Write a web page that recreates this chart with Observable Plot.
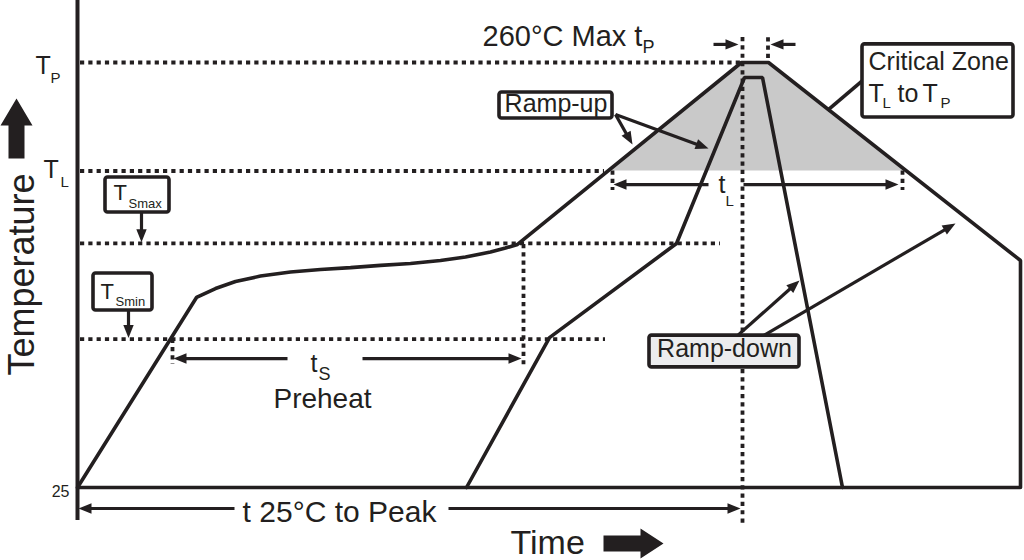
<!DOCTYPE html>
<html>
<head>
<meta charset="utf-8">
<script src="https://cdn.jsdelivr.net/npm/d3@7"></script>
<script src="https://cdn.jsdelivr.net/npm/@observablehq/plot@0.6"></script>
<style>
  html, body { margin: 0; padding: 0; background: #fff; }
  #chart svg { display: block; }
</style>
</head>
<body>
<div id="chart"></div>
<script>
// ---------- data (schematic units: time in s, temperature in °C-like units) ----------
const Tp = 260, TL = 200, Tsmax = 160, Tsmin = 107, Tbase = 25;

// upper-limit profile (outer)
const outerTime = [0, 47.6, 55.2, 63.2, 73.2, 85.2, 97.2, 109.2, 121.2, 133.2, 145.2, 155.2, 165.2, 171.2, 176, 265.6, 276.4, 377.2, 377.2];
const outerTemp = [25, 130.1, 135.0, 138.9, 141.9, 144.2, 145.5, 146.6, 147.8, 148.9, 150.5, 152.5, 155.2, 157.4, 159.4, 260, 260, 150.5, 25];

// lower-limit profile (inner)
const innerTime = [155.6, 188.8, 239.6, 266.8, 274, 306];
const innerTemp = [25, 107.9, 159.9, 251.7, 251.7, 25];

// critical zone (TL to TP) shading
const zoneTime = [212.4, 265.6, 276.4, 331.6];
const zoneTemp = [200, 260, 260, 200];

// dotted reference levels
const levelTemp = [Tp, TL, Tsmax, Tsmin];
const levelStart = [1.2, 1.2, 1.2, 1.2];
const levelEnd = [265.6, 210.8, 257.2, 211.2];

// dotted vertical markers
const markTime = [266, 276.2, 178.4, 38, 214, 330];
const markTop = [273.8, 262.2, 159.4, 107, 200, 200];
const markBottom = [4.0, 274.5, 90.8, 93.0, 189.2, 189.2];

// arrows [time, temp] from -> to
const arrowFrom = [[25.6, 177.1], [20.4, 122.9], [84, 96.3], [114, 96.3], [252.4, 192.5], [266.4, 192.5],
                   [62.8, 13.4], [148.4, 13.4], [254.4, 270.0], [287.2, 270.0],
                   [215.2, 231.2], [215.2, 231.2], [264, 109.0], [274.4, 109.0]];
const arrowTo   = [[25.6, 160.6], [20.4, 107.6], [38.4, 96.3], [177.6, 96.3], [214.4, 192.5], [328.4, 192.5],
                   [0.4, 13.4], [265.2, 13.4], [264.4, 270.0], [277.2, 270.0],
                   [222, 214.6], [252.4, 212.4], [288.8, 139.5], [351.2, 171.0]];

// leader line from "Critical Zone" box
const leaderFrom = [314, 250.0];
const leaderTo = [300, 233.5];

// label boxes
const boxName  = ["Tsmax", "Tsmin", "Ramp-up", "Ramp-down", "Critical Zone"];
const boxTime1 = [11.2, 6.4, 168.8, 228.8, 314];
const boxTime2 = [36.8, 30, 214, 288.8, 374.4];
const boxTemp1 = [196.4, 143.3, 243.4, 109.0, 270.0];
const boxTemp2 = [177.1, 122.9, 229.0, 91.4, 229.6];

// text labels
const labelText = ["T", "P", "T", "L", "T", "Smax", "T", "Smin", "t", "S", "Critical Zone", "T", "L", "to", "T", "P", "t", "L", "260°C Max t", "P",
                   "Preheat", "t 25°C to Peak", "Ramp-up", "Ramp-down", "25"];
const labelTime = [-16.8, -10.8, -13.6, -6.8, 14.4, 20.4, 9.2, 15.2, 93.2, 96.4, 316.4, 316.4, 322, 328, 338, 345.2, 256.4, 259.2, 162, 226,
                   98, 104.8, 191.4, 258.8, -3.2];
const labelTemp = [253.9, 248.4, 196.4, 190.9, 184.2, 179.8, 129.5, 125.6, 89.1, 84.2, 255.6, 237.9, 235.1, 237.9, 237.9, 235.1, 187.6, 180.9, 269.4, 265.0,
                   69.2, 6.2, 232.4, 96.9, 20.0];
const labelRole = ["label", "sub", "label", "sub", "box", "boxsub", "box", "boxsub", "label", "subL", "label", "label", "sub", "label", "label", "sub", "label", "sub", "title", "subL",
                   "heading", "big", "label", "label", "tick"];
const labelAnchor = ["start", "start", "start", "start", "start", "start", "start", "start", "start", "start", "start", "start", "start", "start", "start", "start", "start", "start", "start", "start",
                     "middle", "middle", "middle", "middle", "end"];

// axis titles
const axisTitle = ["Temperature", "Time"];

// ---------- rendering ----------
const ink = "#231f20";
const lw = 3.6;
const font = "'Liberation Sans', Arial, Helvetica, sans-serif";
const roleSize = {label: 25, sub: 15, subL: 18, box: 22, boxsub: 13, title: 29, heading: 28, big: 30, tick: 16};

const xDomain = [0, 380], xRange = [77, 1027];
const yDomain = [25, 260], yRange = [487, 62];
const xs = Plot.scale({x: {domain: xDomain, range: xRange}});
const ys = Plot.scale({y: {domain: yDomain, range: yRange}});

const outer = outerTime.map((t, i) => ({t, T: outerTemp[i]}));
const inner = innerTime.map((t, i) => ({t, T: innerTemp[i]}));
const zone = zoneTime.map((t, i) => ({t, T: zoneTemp[i]}));
const levels = levelTemp.map((T, i) => ({T, t1: levelStart[i], t2: levelEnd[i]}));
const marksV = markTime.map((t, i) => ({t, T1: markTop[i], T2: markBottom[i]}));
const boxes = boxName.map((n, i) => ({n, t1: boxTime1[i], t2: boxTime2[i], T1: boxTemp1[i], T2: boxTemp2[i]}));
const labels = labelText.map((s, i) => ({s, t: labelTime[i], T: labelTemp[i], size: roleSize[labelRole[i]], anchor: labelAnchor[i]}));

const HEAD_R = 6.5; // head length = 2r
const arrows = arrowFrom.map((a, i) => {
  const b = arrowTo[i];
  const p1 = [xs.apply(a[0]), ys.apply(a[1])];
  const p2 = [xs.apply(b[0]), ys.apply(b[1])];
  const dx = p2[0] - p1[0], dy = p2[1] - p1[1], len = Math.hypot(dx, dy);
  const ux = dx / len, uy = dy / len;
  const e = [p2[0] - ux * HEAD_R * 1.4, p2[1] - uy * HEAD_R * 1.4];
  return {t1: a[0], T1: a[1], t2: xs.invert(e[0]), T2: ys.invert(e[1]), tt: b[0], tT: b[1], ux, uy};
});

function headSymbol(ux, uy) {
  return {
    draw(ctx, size) {
      const r = Math.sqrt(size / Math.PI);
      const L = 2 * r, w = 0.8 * r;
      const bx = -ux * L, by = -uy * L;
      ctx.moveTo(0, 0);
      ctx.lineTo(bx - uy * w, by + ux * w);
      ctx.lineTo(bx + uy * w, by - ux * w);
      ctx.closePath();
    }
  };
}

function blockArrow(dir, headLen, headHalf, stemHalf, total) {
  return {
    draw(ctx) {
      const h = total / 2;
      let pts = [[0, -h], [headHalf, -h + headLen], [stemHalf, -h + headLen], [stemHalf, h],
                 [-stemHalf, h], [-stemHalf, -h + headLen], [-headHalf, -h + headLen]];
      if (dir === "right") pts = pts.map(([x, y]) => [-y, x]);
      ctx.moveTo(pts[0][0], pts[0][1]);
      for (const p of pts.slice(1)) ctx.lineTo(p[0], p[1]);
      ctx.closePath();
    }
  };
}

const textMarks = ["start", "middle", "end"].map(anchor =>
  Plot.text(labels.filter(d => d.anchor === anchor), {
    x: "t", y: "T", text: "s", fontSize: "size", textAnchor: anchor, lineAnchor: "bottom", fill: ink
  })
);

const chart = Plot.plot({
  width: 1024,
  height: 560,
  margin: 0,
  x: {domain: xDomain, range: xRange, axis: null},
  y: {domain: yDomain, range: yRange, axis: null},
  style: {fontFamily: font, background: "#fff", color: ink},
  marks: [
    // critical zone shading
    Plot.areaY(zone, {x: "t", y1: () => TL, y2: "T", fill: "#c9c9c9"}),
    // dotted levels and markers
    Plot.ruleY(levels, {y: "T", x1: "t1", x2: "t2", stroke: ink, strokeWidth: 3.8, strokeDasharray: "4.2 4.1"}),
    Plot.ruleX(marksV, {x: "t", y1: "T1", y2: "T2", stroke: ink, strokeWidth: 3.8, strokeDasharray: "4.2 4.1"}),
    // axis line and baseline
    Plot.ruleX([0], {y1: 6.7, y2: 294.5, stroke: ink, strokeWidth: 4}),
    Plot.ruleY([Tbase], {x1: 0, x2: 377.2, stroke: ink, strokeWidth: lw}),
    // profiles
    Plot.line(outer, {x: "t", y: "T", stroke: ink, strokeWidth: lw, strokeLinejoin: "miter"}),
    Plot.line(inner, {x: "t", y: "T", stroke: ink, strokeWidth: lw, strokeLinejoin: "miter"}),
    // leader
    Plot.link([0], {x1: leaderFrom[0], y1: leaderFrom[1], x2: leaderTo[0], y2: leaderTo[1], stroke: ink, strokeWidth: lw}),
    // arrow shafts and heads
    Plot.link(arrows, {x1: "t1", y1: "T1", x2: "t2", y2: "T2", stroke: ink, strokeWidth: 3.2}),
    ...arrows.map(a => Plot.dot([a], {x: "tt", y: "tT", r: HEAD_R, symbol: headSymbol(a.ux, a.uy), fill: ink, stroke: "none"})),
    // boxes
    Plot.rect(boxes.filter(d => d.n !== "Ramp-down"), {x1: "t1", x2: "t2", y1: "T1", y2: "T2", fill: "#fff", stroke: ink, strokeWidth: 3.6, rx: 2.5}),
    Plot.rect(boxes.filter(d => d.n === "Ramp-down"), {x1: "t1", x2: "t2", y1: "T1", y2: "T2", fill: "#ececee", stroke: ink, strokeWidth: 3.6, rx: 2.5}),
    // labels
    ...textMarks,
    // axis titles with block arrows
    Plot.text([axisTitle[0]], {x: -17.6, y: 142.8, text: d => d, rotate: -90, fontSize: 36, textAnchor: "middle", lineAnchor: "bottom", fill: ink}),
    Plot.text([axisTitle[1]], {x: 173.2, y: -11.5, text: d => d, fontSize: 34, textAnchor: "start", lineAnchor: "bottom", fill: ink}),
    Plot.dot([0], {x: -24.4, y: 223.5, r: 10, symbol: blockArrow("up", 27, 16, 8, 60), fill: ink, stroke: "none"}),
    Plot.dot([0], {x: 222.4, y: -6.0, r: 10, symbol: blockArrow("right", 23, 15, 8, 60), fill: ink, stroke: "none"})
  ]
});

document.getElementById("chart").appendChild(chart);
</script>
</body>
</html>
